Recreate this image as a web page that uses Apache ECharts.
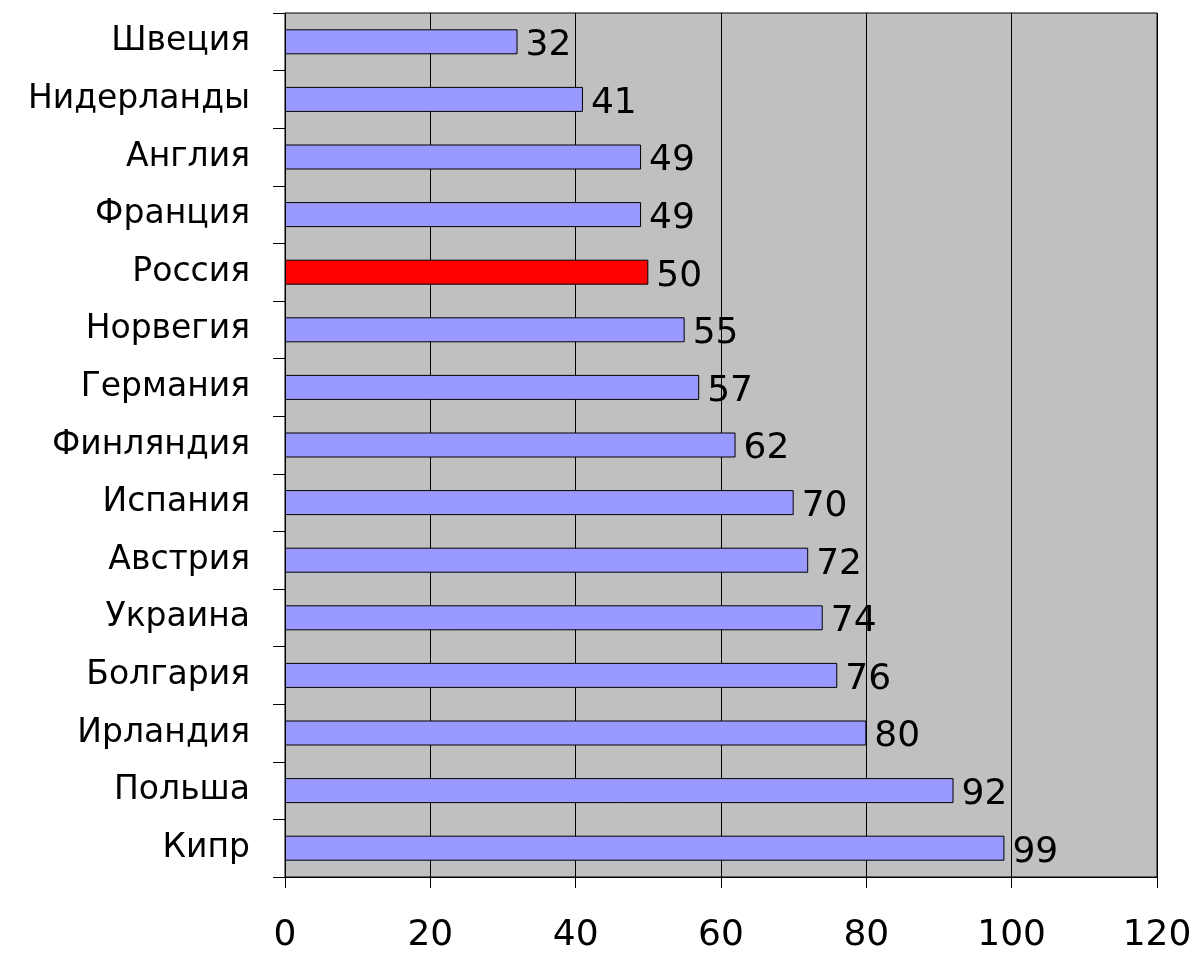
<!DOCTYPE html>
<html>
<head>
<meta charset="utf-8">
<script src="https://cdn.jsdelivr.net/npm/echarts@6/dist/echarts.min.js"></script>
<style>
  html, body { margin: 0; padding: 0; background: #fff; }
  #chart { width: 1201px; height: 955px; }
</style>
</head>
<body>
<div id="chart"></div>
<script>
const countries = ['Швеция', 'Нидерланды', 'Англия', 'Франция', 'Россия', 'Норвегия', 'Германия',
  'Финляндия', 'Испания', 'Австрия', 'Украина', 'Болгария', 'Ирландия', 'Польша', 'Кипр']
const values = [32, 41, 49, 49, 50, 55, 57, 62, 70, 72, 74, 76, 80, 92, 99]
const highlight = 'Россия'

const chart = echarts.init(document.getElementById('chart'))

chart.setOption({
  animation: false,
  textStyle: { fontFamily: 'DejaVu Sans, Arial, sans-serif' },
  grid: {
    left: 285,
    right: 44,
    top: 13,
    bottom: 78,
    show: true,
    backgroundColor: '#c0c0c0',
    borderColor: '#000',
    borderWidth: 1
  },
  xAxis: {
    type: 'value',
    min: 0,
    max: 120,
    interval: 20,
    axisLine: { show: true, lineStyle: { color: '#000', width: 1 } },
    axisTick: { show: true, length: 11, lineStyle: { color: '#000' } },
    axisLabel: { color: '#000', fontSize: 36, margin: 41, fontFamily: 'DejaVu Sans' },
    splitLine: { show: true, lineStyle: { color: '#000', width: 1 } }
  },
  yAxis: {
    type: 'category',
    data: countries,
    inverse: true,
    axisLine: { show: true, lineStyle: { color: '#000', width: 1 } },
    axisTick: { show: true, length: 12, lineStyle: { color: '#000' } },
    axisLabel: { color: '#000', fontSize: 33, margin: 35, fontFamily: 'DejaVu Sans' }
  },
  series: [
    {
      type: 'bar',
      barWidth: 25,
      data: values.map((v, i) => ({
        value: v,
        itemStyle: { color: countries[i] === highlight ? '#ff0000' : '#9999ff' }
      })),
      itemStyle: { borderColor: '#000', borderWidth: 1 },
      label: {
        show: true,
        position: 'right',
        distance: 8,
        offset: [0, 4],
        color: '#000',
        fontSize: 36,
        fontFamily: 'DejaVu Sans'
      }
    }
  ]
})
</script>
</body>
</html>
